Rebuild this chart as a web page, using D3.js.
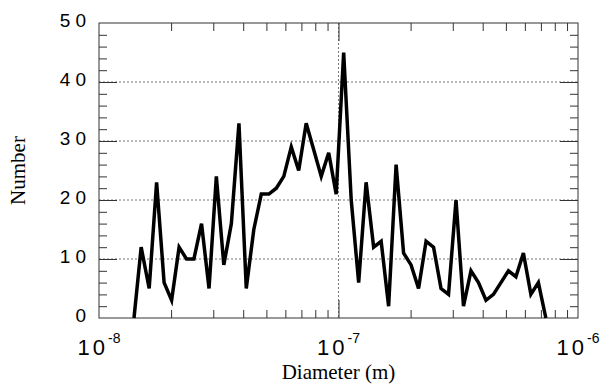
<html>
<head>
<meta charset="utf-8">
<script src="https://cdn.jsdelivr.net/npm/d3@7"></script>
<style>
  body { margin: 0; background: #fff; }
  .tick line { stroke: #333; }
</style>
</head>
<body>
<svg width="600" height="385"></svg>
<script>
// bin diameters (nm) and particle counts
var diameterNm = [14.0, 15.0, 16.2, 17.4, 18.7, 20.1, 21.6, 23.2, 24.9, 26.8,
                  28.8, 30.9, 33.2, 35.7, 38.4, 41.2, 44.3, 47.6, 51.2, 55.0,
                  59.1, 63.5, 68.2, 73.3, 78.8, 84.7, 91.0, 97.8, 105.1, 113.0,
                  121.4, 130.4, 140.2, 150.7, 161.9, 174.0, 187.0, 200.9, 215.9, 232.1,
                  249.4, 268.0, 288.0, 309.5, 332.6, 357.4, 384.1, 412.8, 443.6, 476.7,
                  512.3, 550.5, 591.6, 635.7, 683.2, 734.1];
var counts = [0, 12, 5, 23, 6, 3, 12, 10, 10, 16,
              5, 24, 9, 16, 33, 5, 15, 21, 21, 22,
              24, 29, 25, 33, 28.5, 24, 28, 21, 45, 20,
              6, 23, 12, 13, 2, 26, 11, 9, 5, 13,
              12, 5, 4, 20, 2, 8, 6, 3, 4, 6,
              8, 7, 11, 4, 6, 0];
var yTicks = [0, 10, 20, 30, 40, 50];
var xDecades = [-8, -7, -6];

var svg = d3.select("svg");
var pLeft = 99, pRight = 578, pTop = 23, pBottom = 318;

var x = d3.scaleLog().domain([1e-8, 1e-6]).range([pLeft, pRight]);
var y = d3.scaleLinear().domain([0, 50]).range([pBottom, pTop]);

var yMinor = d3.range(2, 50, 2).filter(function(v) { return v % 10 != 0; });
var yMajor = [10, 20, 30, 40];
var xMinor = [];
[1e-8, 1e-7].forEach(function(dec) {
    for (var k = 2; k <= 9; k++) xMinor.push(k * dec);
});
var xMajor = [1e-7];

// dotted grid
svg.append("g").selectAll("line").data(yMajor).enter().append("line")
    .attr("x1", pLeft).attr("x2", pRight)
    .attr("y1", function(d) { return y(d); }).attr("y2", function(d) { return y(d); })
    .attr("stroke", "#777").attr("stroke-width", 1).attr("stroke-dasharray", "2,2");
svg.append("g").selectAll("line").data(xMajor).enter().append("line")
    .attr("y1", pTop).attr("y2", pBottom)
    .attr("x1", function(d) { return x(d); }).attr("x2", function(d) { return x(d); })
    .attr("stroke", "#777").attr("stroke-width", 1).attr("stroke-dasharray", "2,2");

// inward ticks on all four sides
function ticks(axis, vals, size, tr) {
    svg.append("g").attr("transform", tr)
        .call(axis.tickValues(vals).tickSize(-size).tickFormat(""))
        .call(function(g) { g.select(".domain").remove(); });
}
ticks(d3.axisLeft(y), yMinor, 8, "translate(" + pLeft + ",0)");
ticks(d3.axisRight(y), yMinor, 8, "translate(" + pRight + ",0)");
ticks(d3.axisLeft(y), yMajor, 18, "translate(" + pLeft + ",0)");
ticks(d3.axisRight(y), yMajor, 18, "translate(" + pRight + ",0)");
ticks(d3.axisBottom(x), xMinor, 8, "translate(0," + pBottom + ")");
ticks(d3.axisTop(x), xMinor, 8, "translate(0," + pTop + ")");
ticks(d3.axisBottom(x), xMajor, 18, "translate(0," + pBottom + ")");
ticks(d3.axisTop(x), xMajor, 18, "translate(0," + pTop + ")");

// frame
svg.append("rect")
    .attr("x", pLeft).attr("y", pTop)
    .attr("width", pRight - pLeft).attr("height", pBottom - pTop)
    .attr("fill", "none").attr("stroke", "#333").attr("stroke-width", 1);

// data line
var line = d3.line()
    .x(function(d, i) { return x(diameterNm[i] * 1e-9); })
    .y(function(d) { return y(d); });
svg.append("path")
    .datum(counts)
    .attr("d", line)
    .attr("fill", "none")
    .attr("stroke", "#000")
    .attr("stroke-width", 3.5)
    .attr("stroke-linejoin", "miter");

// y tick labels
svg.append("g").selectAll("text").data(yTicks).enter().append("text")
    .attr("x", pLeft - 8)
    .attr("y", function(d) { return y(d) + 4; })
    .attr("text-anchor", "end")
    .attr("font-family", "Liberation Sans, Arial, sans-serif")
    .attr("font-size", "19px")
    .attr("letter-spacing", "5px")
    .attr("fill", "#000")
    .text(function(d) { return d; });

// x tick labels 10^n
var xl = svg.append("g").selectAll("text").data(xDecades).enter().append("text")
    .attr("x", function(d) { return x(Math.pow(10, d)); })
    .attr("y", 355)
    .attr("text-anchor", "middle")
    .attr("font-family", "Liberation Sans, Arial, sans-serif")
    .attr("font-size", "22px")
    .attr("fill", "#000");
xl.append("tspan").attr("letter-spacing", "3px").text("10");
xl.append("tspan").attr("dy", -12).attr("font-size", "14px").text(function(d) { return d; });

// axis titles
svg.append("text")
    .attr("transform", "translate(25," + ((pTop + pBottom) / 2) + ") rotate(-90)")
    .attr("text-anchor", "middle")
    .attr("font-family", "Liberation Serif, Times New Roman, serif")
    .attr("font-size", "21px")
    .text("Number");
svg.append("text")
    .attr("x", (pLeft + pRight) / 2)
    .attr("y", 379)
    .attr("text-anchor", "middle")
    .attr("font-family", "Liberation Serif, Times New Roman, serif")
    .attr("font-size", "21px")
    .text("Diameter (m)");
</script>
</body>
</html>
